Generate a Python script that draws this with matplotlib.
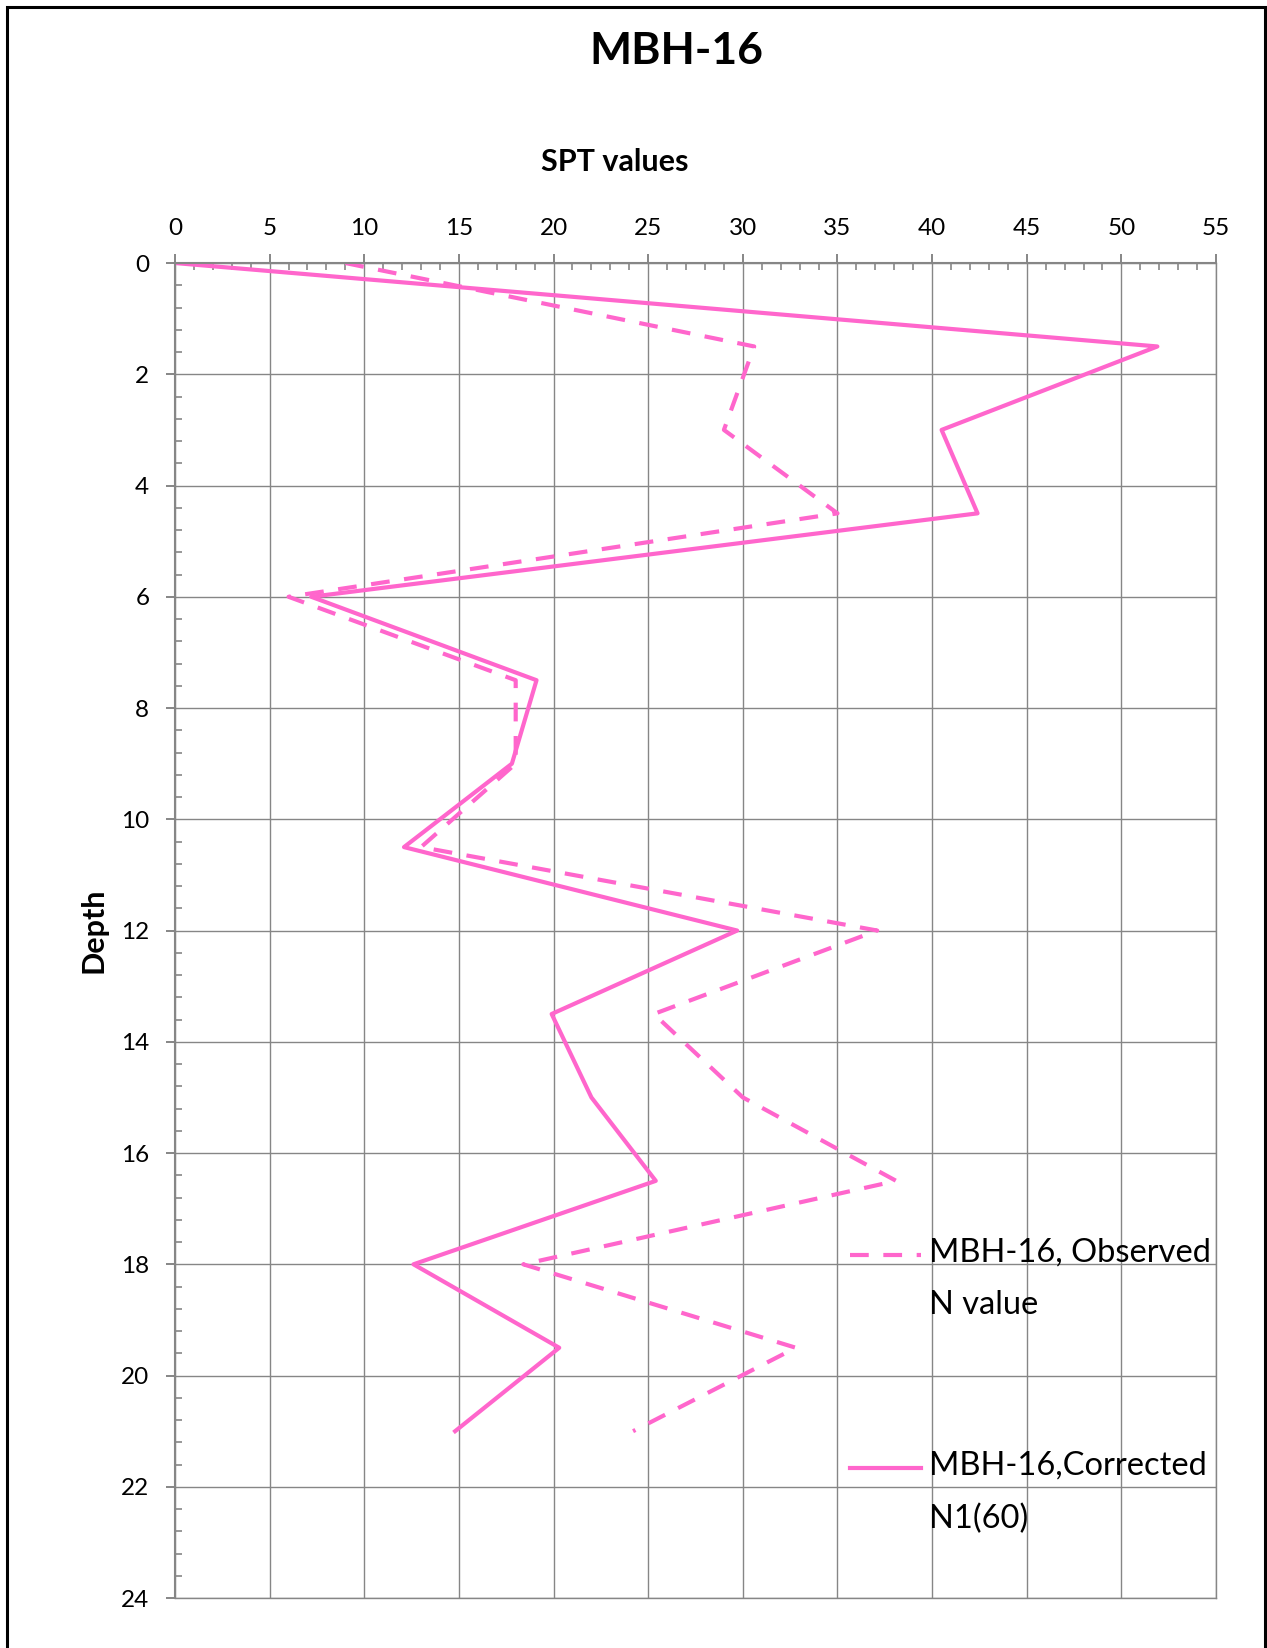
import numpy as np
import matplotlib
matplotlib.use("Agg")
import matplotlib.pyplot as plt
from matplotlib.ticker import MultipleLocator
from matplotlib.legend_handler import HandlerLine2D
from matplotlib.patches import Rectangle

plt.rcParams['font.family'] = ['Lato', 'DejaVu Sans']

# SPT profile of borehole MBH-16
depth = [0, 1.5, 3, 4.5, 6, 7.5, 9, 10.5, 12, 13.5, 15, 16.5, 18, 19.5, 21]
observed_n = [9.0, 30.6, 29.0, 35.0, 6.0, 18.0, 18.0, 13.0, 37.1, 25.3, 30.0, 38.1, 18.4, 32.8, 24.2]
corrected_n160 = [0, 51.9, 40.5, 42.4, 7.2, 19.1, 17.8, 12.1, 29.7, 19.9, 22.0, 25.4, 12.6, 20.3, 14.8]

labels = ["MBH-16, Observed\nN value", "MBH-16,Corrected\nN1(60)"]
pink = "#FF66CC"
grey = "#868686"


class FirstLineHandler(HandlerLine2D):
    # put the legend sample next to the first line of a two line label
    def __init__(self, shift, **kw):
        super().__init__(**kw)
        self.shift = shift

    def create_artists(self, legend, orig_handle, xdescent, ydescent,
                       width, height, fontsize, trans):
        arts = super().create_artists(legend, orig_handle, xdescent, ydescent,
                                      width, height, fontsize, trans)
        for a in arts:
            a.set_ydata(np.asarray(a.get_ydata()) + self.shift)
        return arts


fig = plt.figure(figsize=(12.67, 16.48), dpi=100)
ax = fig.add_axes([0.1381, 0.0303, 0.8217, 0.8101])

l_obs, = ax.plot(observed_n, depth, color=pink, lw=3.0, dashes=(4.5, 3.5))
l_cor, = ax.plot(corrected_n160, depth, color=pink, lw=3.0)

ax.set_xlim(0, 55)
ax.set_ylim(24, 0)
ax.xaxis.tick_top()
ax.xaxis.set_major_locator(MultipleLocator(5))
ax.xaxis.set_minor_locator(MultipleLocator(1))
ax.yaxis.set_major_locator(MultipleLocator(2))
ax.yaxis.set_minor_locator(MultipleLocator(0.4))

ax.tick_params(which='major', direction='out', length=6.5, width=1.4, color=grey,
               labelsize=17.5)
ax.tick_params(axis='x', which='major', pad=11)
ax.tick_params(axis='y', which='major', pad=12)
ax.tick_params(which='minor', direction='in', length=5, width=1.2, color=grey)
ax.tick_params(axis='x', which='minor', top=True, bottom=False)

ax.grid(True, which='major', color=grey, lw=1.0)
ax.set_axisbelow(True)
for side in ['top', 'left']:
    ax.spines[side].set_color(grey)
    ax.spines[side].set_linewidth(1.5)
for side in ['right', 'bottom']:
    ax.spines[side].set_color(grey)
    ax.spines[side].set_linewidth(1.0)

ax.set_xlabel("SPT values", fontsize=22, fontweight='bold')
ax.xaxis.set_label_position('top')
ax.xaxis.set_label_coords(0.4227, 1.0755)
ax.xaxis.label.set_va('center')

ax.set_ylabel("Depth", fontsize=22, fontweight='bold')
ax.yaxis.set_label_coords(-0.078, 0.5)
ax.yaxis.label.set_va('center')

fig.text(0.534, 0.969, "MBH-16", fontsize=32, fontweight='bold',
         ha='center', va='center')

leg = ax.legend([l_obs, l_cor], labels, loc='upper left',
                bbox_to_anchor=(0.648, 0.270), frameon=False, fontsize=23.5,
                handlelength=2.2, handletextpad=0.22, borderpad=0,
                borderaxespad=0, labelspacing=4.0,
                handler_map={l_obs: FirstLineHandler(18.0),
                             l_cor: FirstLineHandler(18.0)})
for t in leg.get_texts():
    t.set_linespacing(1.95)

# outer chart border
fig.patches.append(Rectangle((0.0055, -0.02), 0.9929, 1.0158, transform=fig.transFigure,
                             fill=False, edgecolor='black', lw=2.2))

fig.savefig("out.png", dpi=100)
